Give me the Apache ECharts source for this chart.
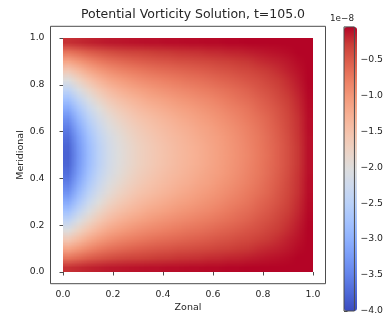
<!DOCTYPE html>
<html>
<head>
<meta charset="utf-8">
<script src="https://cdn.jsdelivr.net/npm/echarts@6/dist/echarts.min.js"></script>
<style>
  html, body { margin: 0; padding: 0; background: #fff; }
  #chart { width: 386px; height: 320px; }
</style>
</head>
<body>
<div id="chart"></div>
<script>
// Cell centres of the solution grid (non-dimensional domain 0..1)
const zonal = [0.02, 0.06, 0.10, 0.14, 0.18, 0.22, 0.26, 0.30, 0.34, 0.38, 0.42, 0.46, 0.50,
               0.54, 0.58, 0.62, 0.66, 0.70, 0.74, 0.78, 0.82, 0.86, 0.90, 0.94, 0.98];
const meridional = [0.02, 0.06, 0.10, 0.14, 0.18, 0.22, 0.26, 0.30, 0.34, 0.38, 0.42, 0.46, 0.50,
                    0.54, 0.58, 0.62, 0.66, 0.70, 0.74, 0.78, 0.82, 0.86, 0.90, 0.94, 0.98];

// Potential vorticity in units of 1e-8, one row per meridional cell (south to north)
const pv = [
  [-0.24,-0.21,-0.18,-0.16,-0.14,-0.13,-0.12,-0.11,-0.10,-0.10,-0.09,-0.09,-0.08,-0.08,-0.07,-0.07,-0.06,-0.06,-0.05,-0.05,-0.04,-0.03,-0.03,-0.02,-0.01],
  [-0.71,-0.62,-0.53,-0.47,-0.42,-0.38,-0.35,-0.33,-0.31,-0.29,-0.28,-0.26,-0.25,-0.24,-0.22,-0.21,-0.19,-0.18,-0.16,-0.14,-0.12,-0.10,-0.08,-0.05,-0.02],
  [-1.17,-1.02,-0.88,-0.77,-0.69,-0.63,-0.58,-0.54,-0.51,-0.48,-0.46,-0.43,-0.41,-0.39,-0.37,-0.34,-0.32,-0.29,-0.27,-0.23,-0.20,-0.17,-0.13,-0.08,-0.03],
  [-1.62,-1.41,-1.21,-1.06,-0.95,-0.86,-0.80,-0.75,-0.70,-0.66,-0.63,-0.60,-0.57,-0.54,-0.51,-0.47,-0.44,-0.40,-0.37,-0.32,-0.28,-0.23,-0.17,-0.11,-0.04],
  [-2.04,-1.77,-1.53,-1.34,-1.19,-1.09,-1.01,-0.94,-0.88,-0.84,-0.79,-0.75,-0.71,-0.68,-0.64,-0.59,-0.55,-0.51,-0.46,-0.41,-0.35,-0.29,-0.22,-0.14,-0.05],
  [-2.42,-2.10,-1.82,-1.59,-1.42,-1.29,-1.20,-1.12,-1.05,-0.99,-0.94,-0.89,-0.85,-0.80,-0.76,-0.71,-0.66,-0.61,-0.55,-0.48,-0.42,-0.34,-0.26,-0.17,-0.06],
  [-2.77,-2.41,-2.08,-1.82,-1.62,-1.48,-1.37,-1.28,-1.20,-1.14,-1.08,-1.02,-0.97,-0.92,-0.87,-0.81,-0.75,-0.69,-0.63,-0.55,-0.48,-0.39,-0.30,-0.20,-0.07],
  [-3.07,-2.67,-2.31,-2.02,-1.80,-1.64,-1.52,-1.42,-1.33,-1.26,-1.20,-1.13,-1.08,-1.02,-0.96,-0.90,-0.83,-0.77,-0.70,-0.61,-0.53,-0.44,-0.33,-0.22,-0.08],
  [-3.33,-2.89,-2.50,-2.19,-1.95,-1.78,-1.65,-1.53,-1.45,-1.37,-1.30,-1.23,-1.17,-1.10,-1.04,-0.97,-0.90,-0.83,-0.75,-0.67,-0.58,-0.47,-0.36,-0.24,-0.09],
  [-3.53,-3.07,-2.65,-2.32,-2.06,-1.89,-1.75,-1.63,-1.53,-1.45,-1.38,-1.30,-1.24,-1.17,-1.11,-1.03,-0.96,-0.88,-0.80,-0.71,-0.61,-0.50,-0.38,-0.25,-0.09],
  [-3.68,-3.20,-2.76,-2.42,-2.15,-1.97,-1.82,-1.70,-1.60,-1.51,-1.43,-1.36,-1.29,-1.22,-1.15,-1.08,-1.00,-0.92,-0.83,-0.74,-0.64,-0.52,-0.40,-0.26,-0.10],
  [-3.77,-3.27,-2.83,-2.48,-2.20,-2.01,-1.87,-1.74,-1.64,-1.55,-1.47,-1.39,-1.32,-1.25,-1.18,-1.10,-1.02,-0.94,-0.85,-0.75,-0.65,-0.54,-0.41,-0.27,-0.10],
  [-3.80,-3.30,-2.85,-2.50,-2.22,-2.03,-1.88,-1.75,-1.65,-1.56,-1.48,-1.40,-1.33,-1.26,-1.19,-1.11,-1.03,-0.95,-0.86,-0.76,-0.66,-0.54,-0.41,-0.27,-0.10],
  [-3.77,-3.27,-2.83,-2.48,-2.20,-2.01,-1.87,-1.74,-1.64,-1.55,-1.47,-1.39,-1.32,-1.25,-1.18,-1.10,-1.02,-0.94,-0.85,-0.75,-0.65,-0.54,-0.41,-0.27,-0.10],
  [-3.68,-3.20,-2.76,-2.42,-2.15,-1.97,-1.82,-1.70,-1.60,-1.51,-1.43,-1.36,-1.29,-1.22,-1.15,-1.08,-1.00,-0.92,-0.83,-0.74,-0.64,-0.52,-0.40,-0.26,-0.10],
  [-3.53,-3.07,-2.65,-2.32,-2.06,-1.89,-1.75,-1.63,-1.53,-1.45,-1.38,-1.30,-1.24,-1.17,-1.11,-1.03,-0.96,-0.88,-0.80,-0.71,-0.61,-0.50,-0.38,-0.25,-0.09],
  [-3.33,-2.89,-2.50,-2.19,-1.95,-1.78,-1.65,-1.53,-1.45,-1.37,-1.30,-1.23,-1.17,-1.10,-1.04,-0.97,-0.90,-0.83,-0.75,-0.67,-0.58,-0.47,-0.36,-0.24,-0.09],
  [-3.07,-2.67,-2.31,-2.02,-1.80,-1.64,-1.52,-1.42,-1.33,-1.26,-1.20,-1.13,-1.08,-1.02,-0.96,-0.90,-0.83,-0.77,-0.70,-0.61,-0.53,-0.44,-0.33,-0.22,-0.08],
  [-2.77,-2.41,-2.08,-1.82,-1.62,-1.48,-1.37,-1.28,-1.20,-1.14,-1.08,-1.02,-0.97,-0.92,-0.87,-0.81,-0.75,-0.69,-0.63,-0.55,-0.48,-0.39,-0.30,-0.20,-0.07],
  [-2.42,-2.10,-1.82,-1.59,-1.42,-1.29,-1.20,-1.12,-1.05,-0.99,-0.94,-0.89,-0.85,-0.80,-0.76,-0.71,-0.66,-0.61,-0.55,-0.48,-0.42,-0.34,-0.26,-0.17,-0.06],
  [-2.04,-1.77,-1.53,-1.34,-1.19,-1.09,-1.01,-0.94,-0.88,-0.84,-0.79,-0.75,-0.71,-0.68,-0.64,-0.59,-0.55,-0.51,-0.46,-0.41,-0.35,-0.29,-0.22,-0.14,-0.05],
  [-1.62,-1.41,-1.21,-1.06,-0.95,-0.86,-0.80,-0.75,-0.70,-0.66,-0.63,-0.60,-0.57,-0.54,-0.51,-0.47,-0.44,-0.40,-0.37,-0.32,-0.28,-0.23,-0.17,-0.11,-0.04],
  [-1.17,-1.02,-0.88,-0.77,-0.69,-0.63,-0.58,-0.54,-0.51,-0.48,-0.46,-0.43,-0.41,-0.39,-0.37,-0.34,-0.32,-0.29,-0.27,-0.23,-0.20,-0.17,-0.13,-0.08,-0.03],
  [-0.71,-0.62,-0.53,-0.47,-0.42,-0.38,-0.35,-0.33,-0.31,-0.29,-0.28,-0.26,-0.25,-0.24,-0.22,-0.21,-0.19,-0.18,-0.16,-0.14,-0.12,-0.10,-0.08,-0.05,-0.02],
  [-0.24,-0.21,-0.18,-0.16,-0.14,-0.13,-0.12,-0.11,-0.10,-0.10,-0.09,-0.09,-0.08,-0.08,-0.07,-0.07,-0.06,-0.06,-0.05,-0.05,-0.04,-0.03,-0.03,-0.02,-0.01]
];

// Colour limits (units of 1e-8) and tick labels
const pvMin = -4.0;
const pvMax = -0.05;
const axisTicks = [0.0, 0.2, 0.4, 0.6, 0.8, 1.0];
const colorbarTicks = [-4.0, -3.5, -3.0, -2.5, -2.0, -1.5, -1.0, -0.5];
const offsetText = '1e\u22128';
const titleText = 'Potential Vorticity Solution, t=105.0';

// coolwarm colour ramp
const coolwarm = ['#3b4cc0','#4d68d7','#6282ea','#779af7','#8db0fe','#a3c2ff','#b8d0f9','#ccd9ee',
                  '#dddddd','#ecd3c5','#f5c4ad','#f7b194','#f49a7b','#ec7f63','#de604d','#cb3e38','#b40426'];

const FONT = 'DejaVu Sans';
const INK = '#262626';
const SPINE = '#4d4d4d';

const nx = zonal.length, ny = meridional.length;
const cells = [];
for (let j = 0; j < ny; j++) {
  for (let i = 0; i < nx; i++) {
    cells.push([zonal[i], meridional[j], pv[j][i]]);
  }
}
const halfDx = (zonal[1] - zonal[0]) / 2;
const halfDy = (meridional[1] - meridional[0]) / 2;

// Each cell paints one texel of a small raster (colour from the visualMap);
// the raster is drawn over the field extent with bilinear smoothing,
// like imshow(interpolation='bilinear').
const raster = document.createElement('canvas');
raster.width = nx;
raster.height = ny;
const rctx = raster.getContext('2d');

const fmt1 = v => v.toFixed(1);
const fmtNeg = v => (v < 0 ? '\u2212' + Math.abs(v).toFixed(1) : v.toFixed(1));

const chart = echarts.init(document.getElementById('chart'), null, { renderer: 'canvas' });

chart.setOption({
  animation: false,
  backgroundColor: '#ffffff',
  textStyle: { fontFamily: FONT },
  grid: [
    { left: 50.5, top: 26.3, width: 275, height: 257.4, show: true,
      backgroundColor: 'transparent', borderColor: SPINE, borderWidth: 1, z: 10 },
    { left: 344, top: 26.9, width: 13, height: 284.1, show: true,
      backgroundColor: 'transparent', borderColor: SPINE, borderWidth: 1, z: 10 }
  ],
  xAxis: [
    { gridIndex: 0, type: 'value', min: -0.05, max: 1.05,
      name: 'Zonal', nameLocation: 'middle', nameGap: 19, nameMoveOverlap: false,
      nameTextStyle: { fontFamily: FONT, fontSize: 9.5, color: INK },
      splitLine: { show: false }, axisLine: { show: false },
      axisTick: { show: true, inside: false, length: 3.5, customValues: axisTicks,
                  lineStyle: { color: SPINE, width: 1 } },
      axisLabel: { customValues: axisTicks, formatter: fmt1, margin: 6,
                   fontFamily: FONT, fontSize: 9.3, color: INK } },
    { gridIndex: 1, type: 'value', show: false, min: 0, max: 1 }
  ],
  yAxis: [
    { gridIndex: 0, type: 'value', min: -0.05, max: 1.05,
      name: 'Meridional', nameLocation: 'middle', nameGap: 25, nameMoveOverlap: false,
      nameTextStyle: { fontFamily: FONT, fontSize: 9.5, color: INK },
      splitLine: { show: false }, axisLine: { show: false },
      axisTick: { show: true, inside: false, length: 3.5, customValues: axisTicks,
                  lineStyle: { color: SPINE, width: 1 } },
      axisLabel: { customValues: axisTicks, formatter: fmt1, margin: 6,
                   fontFamily: FONT, fontSize: 9.3, color: INK } },
    { gridIndex: 1, type: 'value', position: 'right', min: pvMin, max: pvMax,
      splitLine: { show: false }, axisLine: { show: false },
      axisTick: { show: true, inside: false, length: 3.5, customValues: colorbarTicks,
                  lineStyle: { color: SPINE, width: 1 } },
      axisLabel: { customValues: colorbarTicks, formatter: fmtNeg, margin: 6,
                   fontFamily: FONT, fontSize: 9.3, color: INK } }
  ],
  visualMap: {
    type: 'continuous', min: pvMin, max: pvMax, dimension: 2, seriesIndex: 0,
    calculable: false, realtime: false, hoverLink: false,
    orient: 'vertical', left: 344, top: 26.9, padding: 0,
    itemWidth: 13, itemHeight: 284.1, text: null, showLabel: false,
    inRange: { color: coolwarm }
  },
  graphic: [
    { type: 'text', left: 'center', x: 188, top: 8,
      style: { text: titleText, fontFamily: FONT, fontSize: 12.5, fill: INK } },
    { type: 'text', x: 330, y: 14,
      style: { text: offsetText, fontFamily: FONT, fontSize: 8.8, fill: INK } }
  ],
  series: [{
    type: 'custom',
    xAxisIndex: 0, yAxisIndex: 0,
    data: cells,
    encode: { x: 0, y: 1 },
    renderItem: function (params, api) {
      const idx = params.dataIndex;
      const i = idx % nx, j = Math.floor(idx / nx);
      rctx.fillStyle = api.visual('color');
      rctx.fillRect(i, ny - 1 - j, 1, 1);
      if (idx !== cells.length - 1) return null;
      // field extent in pixels, from the outermost cell edges
      const p0 = api.coord([zonal[0] - halfDx, meridional[ny - 1] + halfDy]);
      const p1 = api.coord([zonal[nx - 1] + halfDx, meridional[0] - halfDy]);
      return {
        type: 'image',
        style: { image: raster, x: p0[0], y: p0[1], width: p1[0] - p0[0], height: p1[1] - p0[1] }
      };
    }
  }]
});
</script>
</body>
</html>
